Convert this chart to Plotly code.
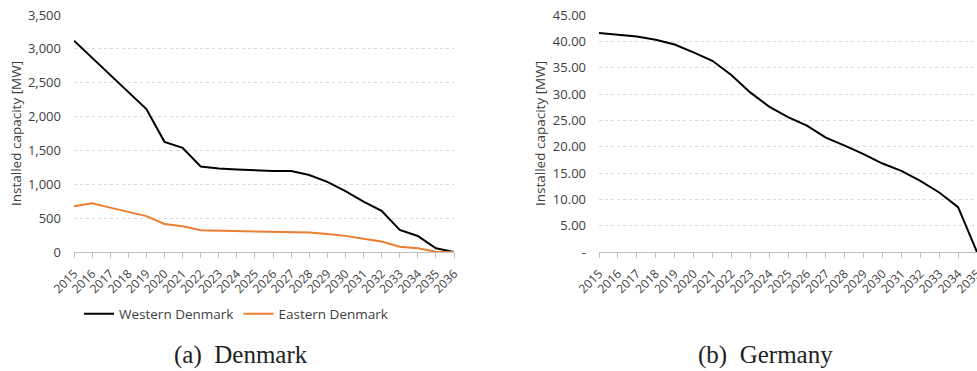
import plotly.graph_objects as go

years_dk = list(range(2015, 2037))
western_dk = [3120, 2870, 2620, 2375, 2110, 1627, 1539, 1263, 1234, 1219, 1204, 1195, 1195,
              1136, 1035, 900, 745, 607, 327, 236, 55, 0]
eastern_dk = [674, 718, 655, 590, 530, 413, 379, 320, 315, 305, 305, 300, 300,
              288, 265, 238, 195, 155, 79, 54, 5, 0]

years_de = list(range(2015, 2036))
germany = [41.6, 41.3, 40.9, 40.3, 39.4, 37.9, 36.3, 33.6, 30.3, 27.6, 25.6, 24.0, 21.7,
           20.2, 18.6, 16.8, 15.4, 13.5, 11.3, 8.5, 0.0]

dk_ticks = [0, 500, 1000, 1500, 2000, 2500, 3000, 3500]
dk_ticktext = ["0", "500", "1,000", "1,500", "2,000", "2,500", "3,000", "3,500"]
de_ticks = [0, 5, 10, 15, 20, 25, 30, 35, 40, 45]
de_ticktext = ["-", "5.00", "10.00", "15.00", "20.00", "25.00", "30.00", "35.00", "40.00", "45.00"]

W, H = 977, 371
FONT = "Open Sans"
TXT = "#404040"
ORANGE = "#ED7D31"


def px(xp):
    return xp / W


def py(yp):
    return (H - yp) / H


fig = go.Figure()
fig.add_trace(go.Scatter(x=years_dk, y=western_dk, mode="lines", name="Western Denmark",
                         line=dict(color="black", width=2), xaxis="x", yaxis="y"))
fig.add_trace(go.Scatter(x=years_dk, y=eastern_dk, mode="lines", name="Eastern Denmark",
                         line=dict(color=ORANGE, width=2), xaxis="x", yaxis="y"))
fig.add_trace(go.Scatter(x=years_de, y=germany, mode="lines", name="Germany",
                         line=dict(color="black", width=2), xaxis="x2", yaxis="y2",
                         showlegend=False))

ydom = [py(252), py(15)]

xcommon = dict(tickmode="linear", dtick=1, tickangle=-45, showgrid=False,
               showline=True, linecolor="#bfbfbf", linewidth=1,
               ticks="outside", ticklen=5, tickcolor="#bfbfbf",
               tickfont=dict(family=FONT, size=12, color=TXT),
               ticklabelstandoff=4,
               zeroline=False, automargin=False, ticklabeloverflow="allow")
ycommon = dict(showgrid=True, gridcolor="#d9d9d9", griddash="dot", gridwidth=1,
               zeroline=False, showline=False, ticks="", tickmode="array",
               tickfont=dict(family=FONT, size=13, color=TXT),
               ticklabelstandoff=12, automargin=False, ticklabeloverflow="allow")

title_font = dict(family=FONT, size=13.5, color=TXT)
cap_font = dict(family="Liberation Serif", size=25, color="#222")

fig.update_layout(
    width=W, height=H, autosize=False,
    margin=dict(l=0, r=0, t=0, b=0),
    paper_bgcolor="white", plot_bgcolor="white",
    xaxis=dict(domain=[px(74), px(454)], range=[2015, 2036], anchor="y", **xcommon),
    yaxis=dict(domain=ydom, range=[0, 3500], anchor="x", tickvals=dk_ticks,
               ticktext=dk_ticktext, **ycommon),
    xaxis2=dict(domain=[px(599), 1.0], range=[2015, 2035], anchor="y2", **xcommon),
    yaxis2=dict(domain=ydom, range=[0, 45], anchor="x2", tickvals=de_ticks,
                ticktext=de_ticktext, **ycommon),
    legend=dict(orientation="h", x=px(236), xanchor="center", y=py(314),
                yanchor="middle", font=dict(family=FONT, size=13.5, color=TXT),
                itemwidth=30, bgcolor="rgba(0,0,0,0)"),
    annotations=[
        dict(text="Installed capacity [MW]", x=px(16), y=py(134), xref="paper", yref="paper",
             showarrow=False, textangle=-90, xanchor="center", yanchor="middle",
             font=title_font),
        dict(text="Installed capacity [MW]", x=px(540), y=py(134), xref="paper", yref="paper",
             showarrow=False, textangle=-90, xanchor="center", yanchor="middle",
             font=title_font),
        dict(text="(a)  Denmark", x=px(241), y=py(355), xref="paper", yref="paper",
             showarrow=False, xanchor="center", yanchor="middle", font=cap_font),
        dict(text="(b)  Germany", x=px(765), y=py(355), xref="paper", yref="paper",
             showarrow=False, xanchor="center", yanchor="middle", font=cap_font),
    ],
)

fig.write_html(
    "out.html",
    config={"displayModeBar": False},
    post_script="document.body.style.margin='0';document.documentElement.style.overflow='hidden';",
)
